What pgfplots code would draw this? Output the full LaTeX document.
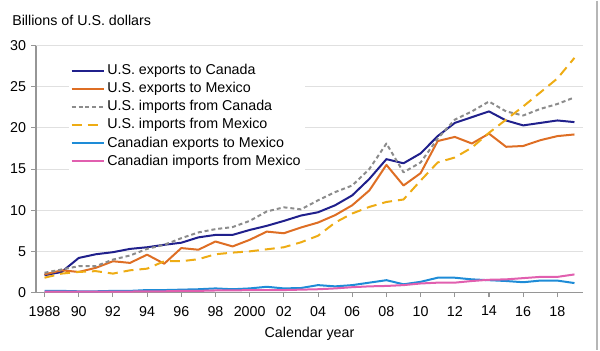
\documentclass[border=0pt]{standalone}
\usepackage{pgfplots}
\pgfplotsset{compat=1.18}
\usepackage{fontspec}
\setmainfont{Liberation Sans}
\definecolor{cNavy}{RGB}{32,32,140}
\definecolor{cOrange}{RGB}{222,110,36}
\definecolor{cGray}{RGB}{140,140,140}
\definecolor{cGold}{RGB}{238,172,20}
\definecolor{cBlue}{RGB}{30,140,215}
\definecolor{cPink}{RGB}{225,95,175}
\definecolor{cGrid}{RGB}{224,224,224}
\definecolor{cAxis}{RGB}{150,150,150}
\newcommand{\chartfont}{\fontsize{10.7}{12.5}\selectfont}
\begin{document}
\begin{tikzpicture}
\begin{axis}[
  name=ax,
  scale only axis,
  width=410.25pt, height=185.25pt,
  xmin=1987.5, xmax=2019.5,
  ymin=0, ymax=30,
  ytick={0,5,...,30},
  xtick={1988,1990,...,2018},
  xticklabels={1988,90,92,94,96,98,2000,02,04,06,08,10,12,14,16,18},
  axis x line*=bottom, axis y line*=left,
  axis line style={cAxis, line width=0.8pt},
  tick style={cAxis, line width=0.8pt},
  tick align=outside,
  major tick length=3.5pt,
  ymajorgrids, grid style={cGrid, line width=0.8pt},
  font=\chartfont,
  tick label style={font=\chartfont},
  xticklabel style={yshift=-3.2pt},
  yticklabel style={xshift=-0.5pt},
  /pgf/number format/assume math mode=true,
  xlabel={Calendar year},
  xlabel style={font=\chartfont, yshift=-1pt},
  legend style={at={(rel axis cs:0.0603,0.941)}, anchor=north west, draw=none, fill=white,
    font=\chartfont, row sep=0pt, inner sep=1pt,
    nodes={text height=8pt, text depth=2.4pt, inner ysep=1.6pt},
    /tikz/every even column/.append style={column sep=3pt}},
  legend cell align=left,
  legend image code/.code={\draw[#1] plot coordinates {(0pt,0pt) (24pt,0pt)};},
  every axis plot/.append style={line width=1.5pt, line join=round},
  clip=false,
]
\addplot[cNavy] coordinates {
(1988,2.1)(1989,2.5)(1990,4.2)(1991,4.65)(1992,4.9)(1993,5.3)(1994,5.5)(1995,5.8)(1996,6.05)
(1997,6.7)(1998,7.0)(1999,7.0)(2000,7.6)(2001,8.1)(2002,8.7)(2003,9.35)(2004,9.75)(2005,10.6)
(2006,11.8)(2007,13.8)(2008,16.2)(2009,15.7)(2010,16.9)(2011,19.0)(2012,20.6)(2013,21.3)
(2014,22.0)(2015,20.9)(2016,20.3)(2017,20.6)(2018,20.9)(2019,20.7)};
\addlegendentry{U.S. exports to Canada}
\addplot[cOrange] coordinates {
(1988,2.2)(1989,2.7)(1990,2.5)(1991,3.0)(1992,3.8)(1993,3.6)(1994,4.6)(1995,3.5)(1996,5.4)
(1997,5.2)(1998,6.2)(1999,5.6)(2000,6.4)(2001,7.4)(2002,7.2)(2003,7.9)(2004,8.5)(2005,9.4)
(2006,10.6)(2007,12.4)(2008,15.5)(2009,13.0)(2010,14.5)(2011,18.4)(2012,18.9)(2013,18.1)
(2014,19.3)(2015,17.7)(2016,17.8)(2017,18.5)(2018,19.0)(2019,19.2)};
\addlegendentry{U.S. exports to Mexico}
\addplot[cGray, dash pattern=on 3pt off 2.2pt] coordinates {
(1988,2.4)(1989,2.8)(1990,3.2)(1991,3.2)(1992,4.0)(1993,4.5)(1994,5.3)(1995,5.8)(1996,6.6)
(1997,7.3)(1998,7.7)(1999,7.95)(2000,8.7)(2001,9.85)(2002,10.35)(2003,10.1)(2004,11.2)(2005,12.2)
(2006,13.0)(2007,15.0)(2008,18.1)(2009,14.6)(2010,15.8)(2011,18.7)(2012,21.0)(2013,22.0)
(2014,23.2)(2015,22.0)(2016,21.5)(2017,22.3)(2018,22.9)(2019,23.7)};
\addlegendentry{U.S. imports from Canada}
\addplot[cGold, dash pattern=on 7.5pt off 4.5pt] coordinates {
(1988,1.8)(1989,2.3)(1990,2.5)(1991,2.6)(1992,2.3)(1993,2.7)(1994,2.9)(1995,3.8)(1996,3.8)
(1997,4.05)(1998,4.65)(1999,4.85)(2000,5.0)(2001,5.25)(2002,5.5)(2003,6.1)(2004,6.9)(2005,8.5)
(2006,9.6)(2007,10.4)(2008,11.0)(2009,11.3)(2010,13.6)(2011,15.8)(2012,16.4)(2013,17.6)
(2014,19.4)(2015,21.0)(2016,22.6)(2017,24.3)(2018,26.0)(2019,28.5)};
\addlegendentry{U.S. imports from Mexico}
\addplot[cBlue] coordinates {
(1988,0.2)(1989,0.2)(1990,0.15)(1991,0.15)(1992,0.2)(1993,0.2)(1994,0.3)(1995,0.3)(1996,0.35)
(1997,0.4)(1998,0.5)(1999,0.4)(2000,0.5)(2001,0.7)(2002,0.5)(2003,0.55)(2004,0.9)(2005,0.75)
(2006,0.9)(2007,1.2)(2008,1.5)(2009,1.0)(2010,1.3)(2011,1.8)(2012,1.8)(2013,1.6)
(2014,1.5)(2015,1.4)(2016,1.25)(2017,1.45)(2018,1.45)(2019,1.15)};
\addlegendentry{Canadian exports to Mexico}
\addplot[cPink] coordinates {
(1988,0.1)(1989,0.1)(1990,0.1)(1991,0.1)(1992,0.1)(1993,0.12)(1994,0.15)(1995,0.15)(1996,0.2)
(1997,0.2)(1998,0.25)(1999,0.25)(2000,0.3)(2001,0.3)(2002,0.3)(2003,0.35)(2004,0.4)(2005,0.5)
(2006,0.65)(2007,0.75)(2008,0.8)(2009,0.9)(2010,1.1)(2011,1.2)(2012,1.2)(2013,1.4)
(2014,1.55)(2015,1.6)(2016,1.75)(2017,1.9)(2018,1.9)(2019,2.2)};
\addlegendentry{Canadian imports from Mexico}
\node[anchor=base west, font=\chartfont, inner sep=0pt] at ([xshift=-18pt,yshift=15pt]rel axis cs:0,1) {Billions of U.S. dollars};
\end{axis}
\draw[cAxis!70, line width=0.8pt] ([xshift=420.75pt,yshift=219pt]ax.south west) -- ([xshift=420.75pt,yshift=-42.75pt]ax.south west);
\path[use as bounding box] ([xshift=-27pt,yshift=-42.75pt]ax.south west) rectangle ([xshift=423pt,yshift=219pt]ax.south west);
\end{tikzpicture}
\end{document}
